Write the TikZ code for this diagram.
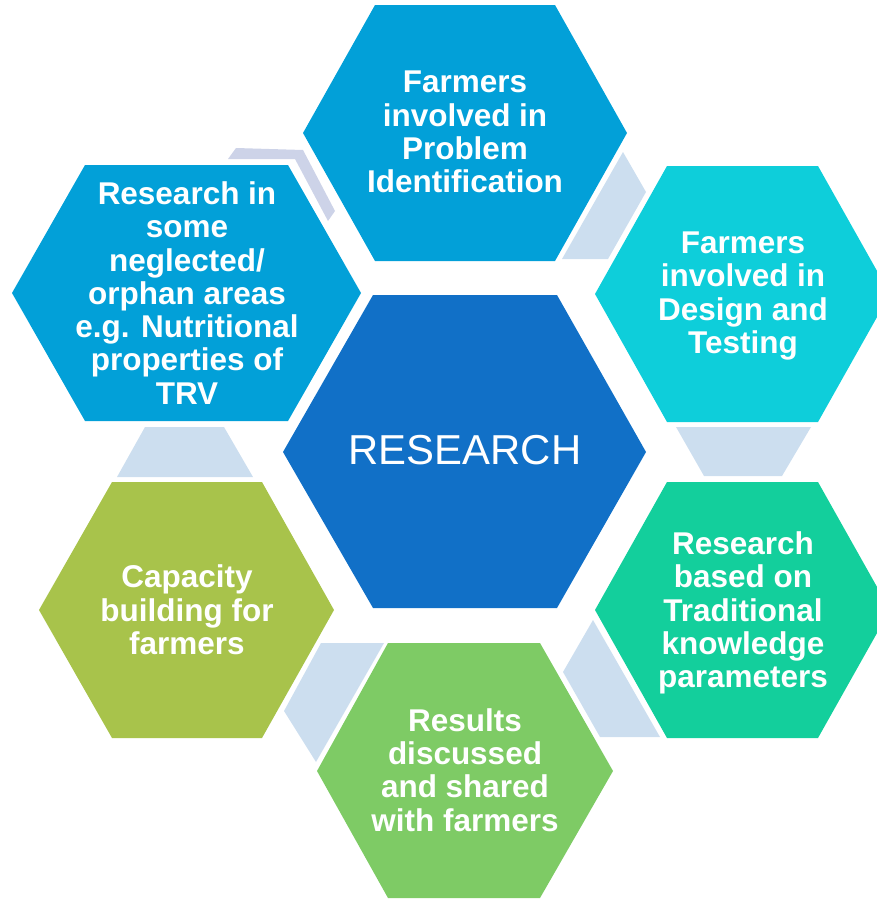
\documentclass[tikz,border=0pt]{standalone}
\usepackage{fontspec}
\setmainfont{Liberation Sans}
\definecolor{hexA}{RGB}{2,160,216}
\definecolor{hexB}{RGB}{14,206,218}
\definecolor{hexC}{RGB}{19,207,156}
\definecolor{hexD}{RGB}{126,203,101}
\definecolor{hexE}{RGB}{168,195,75}
\definecolor{hexMid}{RGB}{17,112,199}
\definecolor{conn}{RGB}{204,222,239}
\definecolor{connB}{RGB}{205,211,232}
\tikzset{
  lbl/.style={text=white, align=center, font=\bfseries\fontsize{31.6}{33.4}\selectfont, inner sep=0pt},
  midlbl/.style={text=white, align=center, font=\fontsize{42}{48}\selectfont, inner sep=0pt},
  connector/.style={fill=conn},
}
\begin{document}
\begin{tikzpicture}[x=1bp,y=-1bp]
\useasboundingbox (0,0) rectangle (877,902);
\clip (0,0) rectangle (877,902);
% connectors
\fill[connector] (623,152) -- (646,192) -- (608,259) -- (562,259) -- cycle;
\fill[connector] (676,427) -- (811,427) -- (782,476) -- (704,476) -- cycle;
\fill[connector] (593,620) -- (660,737) -- (600,737) -- (563,672) -- cycle;
\fill[connector] (321,643) -- (384,643) -- (316,762) -- (284,711) -- cycle;
\fill[connector] (145,427) -- (224,427) -- (253,477) -- (117,477) -- cycle;
\fill[connB] (228,159) -- (236,148) -- (303,150) -- (335,211) -- (328,221) -- (295,159) -- cycle;
% hexagons
\fill[hexA] (375,5) -- (555,5) -- (627,133) -- (555,261) -- (375,261) -- (303,133) -- cycle;
\fill[hexB] (667,166) -- (818,166) -- (890,294) -- (818,422) -- (667,422) -- (595,294) -- cycle;
\fill[hexC] (667,482) -- (818,482) -- (890,610) -- (818,738) -- (667,738) -- (595,610) -- cycle;
\fill[hexD] (388,643) -- (540,643) -- (613,771) -- (540,898) -- (388,898) -- (317,771) -- cycle;
\fill[hexE] (112,482) -- (262,482) -- (334,610) -- (262,738) -- (112,738) -- (39,610) -- cycle;
\fill[hexA] (85,165) -- (288,165) -- (361,293) -- (288,421) -- (85,421) -- (12,293) -- cycle;
\fill[hexMid] (373,295) -- (557,295) -- (646,452) -- (557,608) -- (373,608) -- (283,452) -- cycle;
% labels
\node[lbl] (top) at (465,132) {Farmers\\involved in\\Problem\\Identification};
\node[lbl] (ru) at (743,296) {Farmers\\involved in\\Design and\\Testing};
\node[lbl] (rl) at (743,613) {Research\\based on\\Traditional\\knowledge\\parameters};
\node[lbl] (bot) at (465,770) {Results\\discussed\\and shared\\with farmers};
\node[lbl] (ll) at (187,610) {Capacity\\building for\\farmers};
\node[lbl] (lu) at (187,293) {Research in\\some\\neglected/\\orphan areas\\e.g. Nutritional\\properties of\\TRV};
\node[midlbl] (mid) at (465,450) {RESEARCH};
\end{tikzpicture}
\end{document}
